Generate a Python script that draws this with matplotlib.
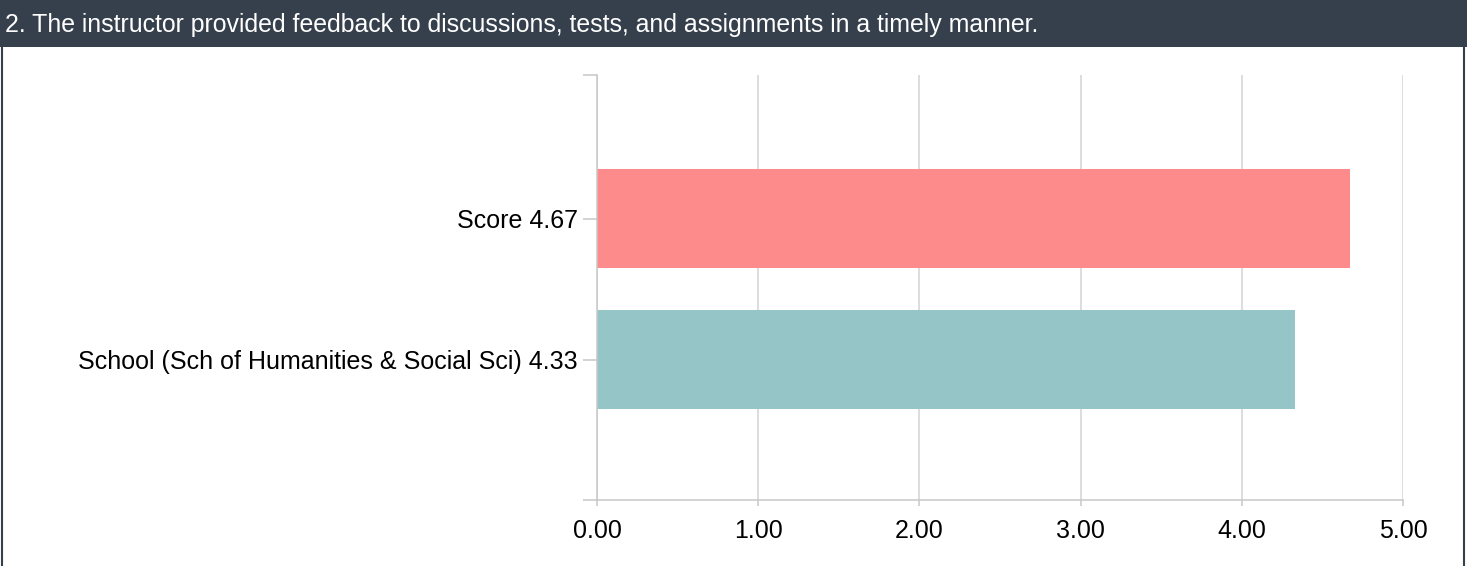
import matplotlib.pyplot as plt
from matplotlib.patches import Rectangle

title = '2. The instructor provided feedback to discussions, tests, and assignments in a timely manner.'
labels = ['Score 4.67', 'School (Sch of Humanities & Social Sci) 4.33']
values = [4.67, 4.33]
colors = ['#fd8b8b', '#96c5c7']
xticks = [0, 1, 2, 3, 4, 5]

plt.rcParams['font.family'] = ['Liberation Sans', 'DejaVu Sans']

fig = plt.figure(figsize=(14.67, 5.66), dpi=100)

# header band and frame
fig.patches.append(Rectangle((0, 1 - 47 / 566), 1, 47 / 566, transform=fig.transFigure,
                             facecolor='#36404d', edgecolor='none', zorder=0))
fig.patches.append(Rectangle((2 / 1467, -0.01), 1 - 5 / 1467, 1.0, transform=fig.transFigure,
                             facecolor='none', edgecolor='#36404d', linewidth=1.5, zorder=1))
fig.text(5 / 1467, 1 - 25 / 566, title, color='white', fontsize=17.9, va='center', ha='left')

ax = fig.add_axes([597 / 1467, 1 - 500 / 566, 806 / 1467, 425 / 566])
ypos = list(range(len(labels)))
ax.barh(ypos, values, height=0.70, color=colors, zorder=2)

ytop, ybot = -1.018, 1.996
ax.set_ylim(ybot, ytop)
ax.set_xlim(0, 5)

ax.set_xticks(xticks)
ax.set_xticklabels(['%.2f' % v for v in xticks])
ax.set_yticks([ytop] + ypos + [ybot])
ax.set_yticklabels([''] + labels + [''])

ax.grid(axis='x', color='#d3d3d3', linewidth=1.1, zorder=1)
ax.set_axisbelow(True)
for s in ['top', 'right']:
    ax.spines[s].set_visible(False)
for s in ['left', 'bottom']:
    ax.spines[s].set_color('#c8c8c8')
    ax.spines[s].set_linewidth(1.1)
ax.tick_params(axis='both', colors='#c8c8c8', width=1.1, labelcolor='black', labelsize=18)
ax.tick_params(axis='y', length=10, pad=4)
ax.tick_params(axis='x', length=4, pad=10)

fig.savefig('out.png', dpi=100)
